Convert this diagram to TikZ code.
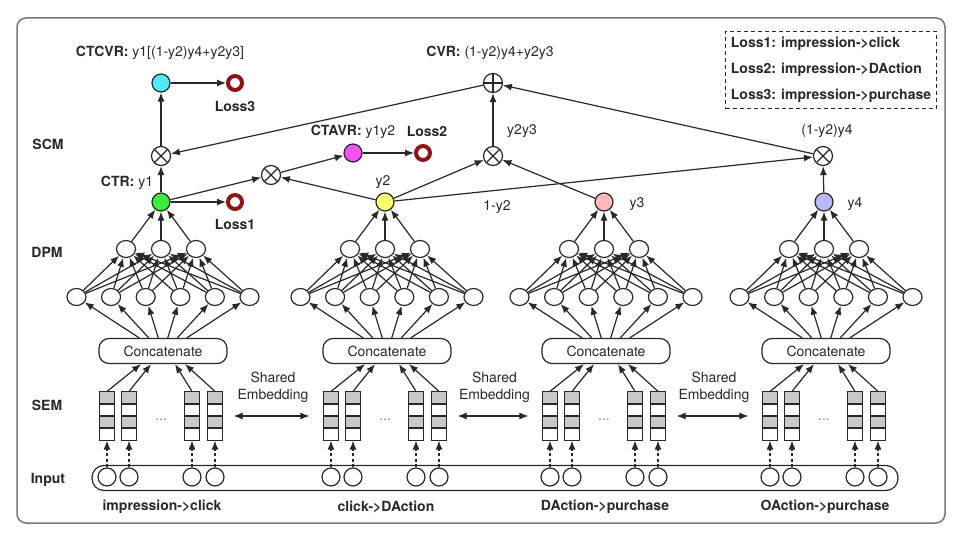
\documentclass[tikz,border=0pt]{standalone}
\usepackage{fontspec}
\setmainfont{TeX Gyre Heros}
\usetikzlibrary{arrows.meta,shapes.geometric}

\definecolor{linegray}{RGB}{40,40,40}
\definecolor{framegray}{RGB}{120,120,120}
\definecolor{cellgray}{RGB}{200,200,200}
\definecolor{lossred}{RGB}{145,20,20}
\definecolor{ctrgreen}{RGB}{60,235,60}
\definecolor{cvryellow}{RGB}{255,255,110}
\definecolor{y3pink}{RGB}{255,185,185}
\definecolor{y4blue}{RGB}{185,185,250}
\definecolor{ctcvrcyan}{RGB}{80,235,245}
\definecolor{ctavrpink}{RGB}{245,80,245}

\tikzset{
  lab/.style={font=\fontsize{14pt}{17pt}\selectfont, inner sep=1pt},
  blab/.style={font=\fontsize{14pt}{17pt}\selectfont\bfseries, inner sep=1pt},
  arr/.style={-{Latex[length=9pt,width=7pt]}},
  dasharr/.style={arr, dash pattern=on 3pt off 2.5pt},
  dblarr/.style={{Latex[length=9pt,width=7pt]}-{Latex[length=9pt,width=7pt]}},
  unit/.style={ellipse, draw, fill=white, minimum width=19pt, minimum height=17pt, inner sep=0pt},
  outnode/.style={circle, draw, minimum size=18pt, inner sep=0pt},
  lossnode/.style={circle, draw=lossred, line width=4pt, minimum size=14pt, inner sep=0pt},
  prodnode/.style={circle, draw, fill=white, minimum size=19pt, inner sep=0pt,
    path picture={\draw (path picture bounding box.north east) -- (path picture bounding box.south west)
      (path picture bounding box.north west) -- (path picture bounding box.south east);}},
  sumnode/.style={circle, draw, fill=white, minimum size=19pt, inner sep=0pt,
    path picture={\draw (path picture bounding box.north) -- (path picture bounding box.south)
      (path picture bounding box.west) -- (path picture bounding box.east);}},
  concat/.style={draw, rounded corners=10pt, minimum width=128pt, minimum height=25pt, lab, inner sep=0pt},
  emb/.style={minimum width=14pt, minimum height=48pt, inner sep=0pt},
  innode/.style={circle, draw, minimum size=18pt, inner sep=0pt},
}

\begin{document}
\begin{tikzpicture}[x=1pt, y=-1pt, line width=1.2pt, color=linegray]
 \useasboundingbox (0,0) rectangle (969,534);
 \draw[framegray, line width=1.5pt, rounded corners=9pt] (17,18) rectangle (945,523);

 % row labels
 \node[blab] (rSCM) at (48,144) {SCM};
 \node[blab] (rDPM) at (47,252) {DPM};
 \node[blab] (rSEM) at (47,405) {SEM};
 \node[blab] (rIn) at (48,480) {Input};

 % input band
 \node[draw, rounded corners=12pt, minimum width=806pt, minimum height=25pt] (band) at (495,478) {};

 % four towers
 \foreach \tw/\cx/\ycol/\task in {1/161/ctrgreen/impression->click, 2/385/cvryellow/click->DAction,
     3/604/y3pink/DAction->purchase, 4/824/y4blue/OAction->purchase}{
  \node[concat] (cc\tw) at (\cx+2,351) {Concatenate};
  \foreach \k/\dx/\sx in {1/-54/-22pt, 2/-32/-12pt, 3/31/12pt, 4/54/22pt}{
   \node[emb] (e\tw\k) at (\cx+\dx,416) {};
   \fill[cellgray] (e\tw\k.north west) rectangle ([yshift=-12pt]e\tw\k.north east)
     (e\tw\k.west) rectangle ([yshift=-12pt]e\tw\k.east);
   \draw (e\tw\k.north west) rectangle (e\tw\k.south east)
     ([yshift=12pt]e\tw\k.west) -- ([yshift=12pt]e\tw\k.east)
     (e\tw\k.west) -- (e\tw\k.east)
     ([yshift=-12pt]e\tw\k.west) -- ([yshift=-12pt]e\tw\k.east);
   \node[innode] (in\tw\k) at (\cx+\dx,477) {};
   \draw[dasharr] (in\tw\k) -- (e\tw\k);
   \draw[arr] (e\tw\k.north) -- ([xshift=\sx]cc\tw.south);
  }
  \node[lab, text=gray] (dots\tw) at (\cx,420) {...};
  \foreach \i in {1,...,6}{
   \node[unit] (a\tw\i) at ({\cx+2+(\i-3.5)*34.6},297) {};
   \draw[arr] ([xshift={(\i-3.5)*9.5pt}]cc\tw.north) -- (a\tw\i);
  }
  \foreach \j in {1,2,3}
   \node[unit] (b\tw\j) at ({\cx+(\j-2)*35},249) {};
  \node[outnode, fill=\ycol] (y\tw) at (\cx,202) {};
  \foreach \i in {1,...,6}{\foreach \j in {1,2,3}{\draw[arr] (a\tw\i) -- (b\tw\j);}}
  \foreach \j in {1,2,3}{\draw[arr] (b\tw\j) -- (y\tw);}
  \node[blab] (task\tw) at (\cx+1,507) {\task};
 }

 % shared embedding
 \foreach \l/\r in {1/2, 2/3, 3/4}
  \draw[dblarr, shorten <=11pt, shorten >=14pt] (e\l4.east) -- (e\r1.west)
    node[lab, midway, above=12pt, align=center] (share\l) {Shared\\Embedding};

 % SCM
 \node[prodnode] (mA) at (161,156) {};
 \node[outnode, fill=ctcvrcyan] (ctcvr) at (161,83) {};
 \node[lossnode] (l3) at (235,83) {};
 \node[lossnode] (l1) at (235,202) {};
 \node[prodnode] (mB) at (271,175) {};
 \node[outnode, fill=ctavrpink] (ctavr) at (353,153) {};
 \node[lossnode] (l2) at (423,153) {};
 \node[prodnode] (mC) at (493,156) {};
 \node[sumnode] (sum) at (493,83) {};
 \node[prodnode] (mD) at (823,156) {};

 \draw[arr] (y1) -- (l1);
 \draw[arr] (y1) -- (mA);
 \draw[arr] (mA) -- (ctcvr);
 \draw[arr] (ctcvr) -- (l3);
 \draw[arr] (y1) -- (mB);
 \draw[arr] (y2) -- (mB);
 \draw[arr] (mB) -- (ctavr);
 \draw[arr] (ctavr) -- (l2);
 \draw[arr] (y2) -- (mC);
 \draw[arr] (y3) -- (mC);
 \draw[arr] (mC) -- (sum);
 \draw[arr] (y2) -- (mD);
 \draw[arr] (y4) -- (mD);
 \draw[arr] (mD) -- (sum);
 \draw[arr] (sum) -- (mA);

 \node[lab] (tCTCVR) at (160,53) {\textbf{CTCVR:} y1[(1-y2)y4+y2y3]};
 \node[lab] (tCVR) at (490,53) {\textbf{CVR:} (1-y2)y4+y2y3};
 \node[blab] (tL3) at (235,106) {Loss3};
 \node[lab] (tCTR) at (127,183) {\textbf{CTR:} y1};
 \node[blab] (tL1) at (235,224) {Loss1};
 \node[lab] (tCTAVR) at (353,132) {\textbf{CTAVR:} y1y2};
 \node[blab] (tL2) at (427,131) {Loss2};
 \node[lab] (ty2) at (383,182) {y2};
 \node[lab] (ty2y3) at (522,131) {y2y3};
 \node[lab] (ty4a) at (827,131) {(1-y2)y4};
 \node[lab] (t1my2) at (497,207) {1-y2};
 \node[lab] (ty3) at (637,204) {y3};
 \node[lab] (ty4) at (855,204) {y4};

 % legend
 \node[draw, line width=1pt, dash pattern=on 4pt off 3pt, align=left, font=\fontsize{14pt}{26pt}\selectfont\bfseries,
   inner xsep=5pt, inner ysep=6pt] (legend) at (831,70)
   {Loss1: impression->click\\Loss2: impression->DAction\\Loss3: impression->purchase};
\end{tikzpicture}
\end{document}
